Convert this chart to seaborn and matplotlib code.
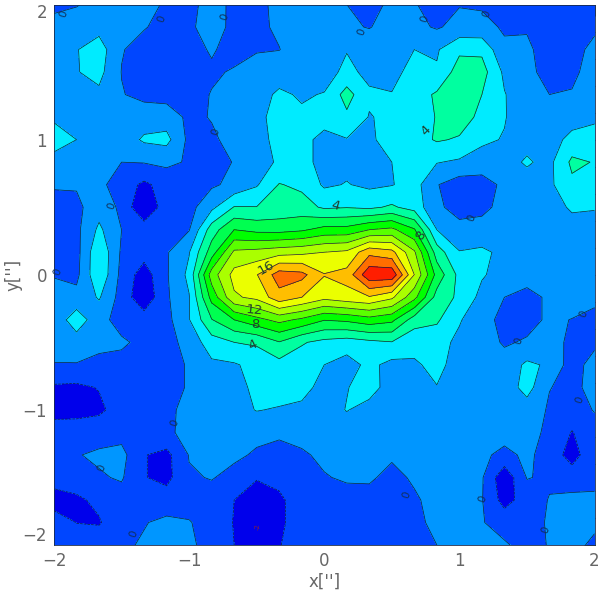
import numpy as np
import matplotlib
matplotlib.use('Agg')
import matplotlib.pyplot as plt
import seaborn as sns

# map values, top row (y=2) first, steps of 1/6 arcsec
r00 = [-0.2,-0.1,0.5,0.8,0.5,-0.2,-0.5,0.7,-0.4,-0.3,0.3,1.0,0.6,0.0,-0.5,0.3,0.1,-0.6,-0.1,-0.2,-0.8,-0.9,-0.9,-0.8,-0.7]
r01 = [0.3,0.8,1.3,1.3,0.1,-0.5,-0.4,1.0,-0.6,-0.4,0.3,1.2,1.2,0.3,-0.1,0.8,0.5,-0.2,0.6,0.5,-0.2,-0.1,-0.7,-0.9,-0.2]
r02 = [1.0,1.9,3.0,0.1,-0.6,-0.9,-0.7,0.2,-0.7,-0.15,-0.05,1.0,1.4,1.9,1.3,1.1,2.0,1.8,3.6,3.6,0.3,0.2,-0.5,-0.4,0.3]
r03 = [1.0,1.9,2.6,-0.05,-0.7,-0.9,-0.7,-0.3,0.2,0.8,1.2,1.6,1.2,2.5,1.5,1.3,2.8,2.2,5.0,4.8,1.6,0.3,-0.4,-0.3,0.6]
r04 = [1.0,1.3,1.6,0.1,-0.5,-0.7,-0.8,0.1,0.8,1.3,2.3,1.8,2.1,4.8,2.3,2.1,3.0,4.3,5.5,4.0,2.1,0.8,0.0,0.1,0.9]
r05 = [1.8,1.6,1.2,0.7,1.0,1.0,-0.4,0.1,1.0,1.5,2.7,2.3,2.4,3.6,1.9,2.4,3.0,4.1,4.9,3.5,2.1,1.0,0.6,1.0,1.6]
r06 = [2.6,2.0,1.1,0.9,2.3,2.6,-0.5,-0.3,0.6,1.3,2.6,2.3,1.7,1.9,1.7,2.7,3.2,4.2,3.8,2.3,1.9,1.5,1.0,2.7,2.9]
r07 = [1.5,1.0,0.7,0.0,0.1,0.4,-0.2,-0.8,0.1,1.1,2.3,2.4,1.6,1.5,1.7,2.0,2.7,2.1,1.7,1.3,1.4,2.2,1.5,4.4,3.9]
r08 = [0.2,0.2,0.5,-1.0,-2.4,-1.2,-0.9,-0.3,0.5,1.8,4.1,3.6,1.7,2.1,1.6,1.9,2.8,0.1,-1.0,-1.0,0.5,1.3,1.6,3.6,3.5]
r09 = [-0.7,-0.5,1.2,-0.4,-4.0,-0.8,-0.7,1.5,4.1,4.05,4.6,4.8,3.7,3.9,3.6,4.3,3.2,0.3,-0.6,-0.4,0.5,1.2,1.4,2.2,2.1]
r10 = [-0.7,-0.5,2.4,0.0,-0.8,-0.8,-0.1,5.0,8.0,7.4,7.3,7.7,8.7,8.7,10.0,10.5,8.2,2.0,0.5,0.6,0.9,1.1,1.2,1.4,1.4]
r11 = [-0.7,-0.7,3.7,-0.3,-1.2,-0.2,1.9,7.0,12.4,12.7,13.2,13.5,14.0,14.4,17.4,16.6,12.3,5.0,2.1,2.4,1.5,1.0,1.0,1.1,1.3]
r12 = [-0.1,-0.5,3.7,-0.6,-3.0,-0.2,2.5,11.0,14.7,15.9,19.0,18.6,16.1,16.7,21.5,21.5,14.0,7.3,3.4,2.2,1.2,0.8,0.8,1.0,1.2]
r13 = [0.6,0.6,2.2,-0.8,-3.5,-0.3,1.9,8.7,13.7,14.5,17.3,16.0,14.6,15.3,15.8,14.4,10.6,5.2,3.6,1.4,0.0,-0.6,0.3,0.8,0.6]
r14 = [0.6,3.2,0.7,-0.8,-1.0,-0.6,1.9,5.9,8.0,9.4,10.6,9.6,8.1,8.4,9.2,8.5,5.0,4.3,2.2,0.5,-0.4,-0.6,0.3,-0.05,-0.7]
r15 = [0.8,1.0,0.3,0.3,-0.5,-0.7,0.7,3.1,4.0,4.3,5.9,4.2,3.4,3.0,3.5,3.9,2.5,2.8,1.5,0.8,-0.2,0.2,0.7,-0.4,-0.5]
r16 = [-0.1,-0.1,-0.3,-0.6,-0.7,-0.8,0.2,1.6,1.8,2.6,3.3,2.9,2.0,1.2,2.5,1.4,1.8,2.4,1.4,1.0,0.7,2.4,1.7,-1.0,0.9]
r17 = [-2.3,-2.4,-1.9,-1.0,-0.8,-0.8,0.2,1.1,1.4,2.4,3.1,2.9,1.1,1.9,2.9,1.0,1.8,1.95,1.2,0.9,0.8,2.8,0.05,-0.4,0.5]
r18 = [-2.8,-2.8,-2.4,-1.1,-0.8,-0.3,0.4,0.9,1.2,2.1,1.8,1.4,1.0,2.1,1.2,1.0,1.0,0.9,1.0,1.0,0.8,1.0,-0.2,-0.8,0.1]
r19 = [-0.9,-0.8,-0.8,-0.7,-0.8,-0.3,0.5,0.8,0.7,0.4,0.2,0.5,0.7,0.8,0.9,0.9,0.9,0.8,0.8,0.6,0.6,0.5,-0.3,-2.1,-0.7]
r20 = [-0.8,-0.1,0.3,0.6,-1.9,-2.6,0.1,0.6,0.3,-0.2,-0.4,-0.2,0.3,0.7,0.5,0.2,0.5,0.7,0.6,0.3,-0.4,0.3,-0.6,-3.0,-0.3]
r21 = [-0.8,-0.8,-0.2,0.2,-1.9,-2.6,-0.2,0.1,-0.5,-1.9,-1.4,-0.9,-0.1,0.2,0.2,-0.4,0.2,0.6,0.5,0.2,-3.5,0.1,-0.3,-0.8,-0.8]
r22 = [-3.2,-2.4,-1.5,-0.8,-0.9,-1.0,-0.7,-0.7,-2.0,-2.7,-2.4,-0.9,-0.7,-0.6,-0.5,-0.7,-0.2,0.5,0.4,0.1,-2.8,-1.0,0.1,0.4,0.5]
r23 = [-0.7,-2.05,-2.2,-0.4,-0.1,0.4,0.1,-0.7,-2.1,-2.9,-2.4,-1.0,-0.8,-0.7,-0.7,-0.6,-0.1,0.1,0.6,0.1,-0.7,-0.7,0.2,0.7,0.4]
r24 = [-0.3,-0.7,-0.6,-0.3,0.2,0.9,0.3,-0.6,-2.0,-2.8,-2.1,-1.0,-0.9,-0.9,-0.8,-0.6,-0.3,0.0,0.6,0.4,0.2,-0.6,0.1,0.6,-0.4]

levels = [-10, -2, 0, 2, 4, 6, 8, 10, 12, 14, 16, 18, 20, 30]
colours = ['#0000eb', '#0046ff', '#0096ff', '#00ebff', '#00ffa0', '#00ff50',
           '#00ff00', '#5aff00', '#aaff00', '#ebff00', '#ffbe00', '#ff6e00', '#ff1e00']

zero_x = [-1.93, -1.2, -0.74, -0.8, -1.57, -1.97, 0.28, 0.74, 1.2, 1.09, -1.41, -1.65, -1.11, 0.61, 1.17, 1.44, 1.92, 1.89, 1.64]
zero_y = [1.93, 1.89, 1.91, 1.06, 0.51, 0.02, 1.80, 1.89, 1.93, 0.42, -1.92, -1.43, -1.10, -1.63, -1.66, -0.49, -0.29, -0.93, -1.89]
big_text = ['4', '4', '4', '8', '8', '12', '16']
big_x = [0.08, 0.75, -0.53, 0.71, -0.51, -0.52, -0.43]
big_y = [0.51, 1.07, -0.52, 0.29, -0.37, -0.26, 0.05]
big_rot = [-15, 45, 25, 55, 0, -5, 30]
tick_values = [-2, -1, 0, 1, 2]

sns.set_style('white')

z = np.array([r00, r01, r02, r03, r04, r05, r06, r07, r08, r09, r10, r11, r12,
              r13, r14, r15, r16, r17, r18, r19, r20, r21, r22, r23, r24])
x = np.linspace(-2, 2, z.shape[1])
y = np.linspace(2, -2, z.shape[0])

fig = plt.figure(figsize=(6.0, 5.91), dpi=100)
ax = fig.add_axes([54 / 600, (591 - 545) / 591, 540.5 / 600, 540.5 / 591])

ax.contourf(x, y, z, levels=levels, colors=sns.color_palette(colours))
ax.contour(x, y, z, levels=levels[1:-1], colors='#10203a', linewidths=0.5)

for a, b in zip(zero_x, zero_y):
    ax.text(a, b, '0', fontsize=7.5, color='#10305a', ha='center', va='center', rotation=70)
for t, a, b, r in zip(big_text, big_x, big_y, big_rot):
    ax.text(a, b, t, fontsize=9.5, color='#204030', ha='center', va='center', rotation=r)
ax.text(-0.49, -1.86, '-2', fontsize=5, color='#802040', ha='center', va='center', rotation=90)

ax.set_xlim(-2, 2)
ax.set_ylim(-2, 2)
ax.set_xticks(tick_values)
ax.set_yticks(tick_values)
ax.set_xticks(np.arange(-2, 2.01, 0.2), minor=True)
ax.set_yticks(np.arange(-2, 2.01, 0.2), minor=True)
ax.tick_params(which='major', direction='in', length=8, width=0.5, top=True, right=True,
               labelsize=12, labelcolor='#666666', color='#1a2a4a', pad=5)
ax.tick_params(which='minor', direction='in', length=3.6, width=0.5, top=True, right=True,
               color='#1a2a4a')
ax.get_yticklabels()[-1].set_va('top')
ax.get_yticklabels()[0].set_va('bottom')
for s in ax.spines.values():
    s.set_linewidth(0.6)
    s.set_color('#1a2a4a')

ax.set_xlabel("x['']", fontsize=12, color='#666666', labelpad=2)
ax.set_ylabel("y['']", fontsize=12, color='#666666', labelpad=0)

fig.savefig('out.png', dpi=100)
